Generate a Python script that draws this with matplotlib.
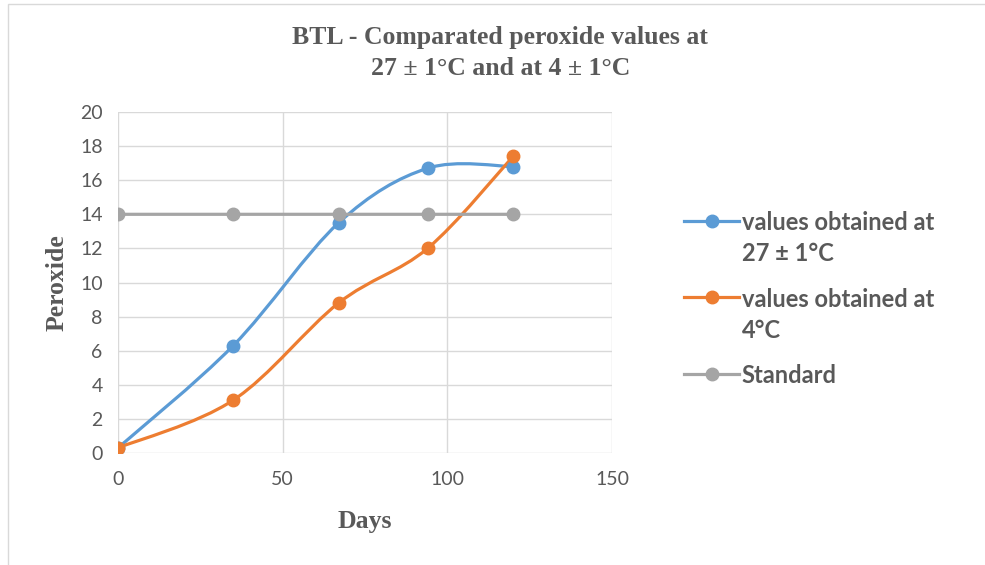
import numpy as np
import matplotlib.pyplot as plt
from matplotlib.path import Path
from matplotlib.patches import PathPatch, Rectangle
from matplotlib.lines import Line2D

# ---- data ----
days = [0, 35, 67, 94, 120]
peroxide_27 = [0.3, 6.3, 13.5, 16.7, 16.8]
peroxide_4 = [0.3, 3.1, 8.8, 12.0, 17.4]
standard = [14, 14, 14, 14, 14]

labels = ["values obtained at\n27 ± 1°C", "values obtained at\n4°C", "Standard"]
colors = ["#5B9BD5", "#ED7D31", "#A5A5A5"]

TEXT = "#595959"
GRID = "#D9D9D9"


def smooth_path(xs, ys):
    # Excel-like smoothed line: Catmull-Rom segments as cubic Bezier
    pts = np.column_stack([xs, ys]).astype(float)
    n = len(pts)
    verts = [pts[0]]
    codes = [Path.MOVETO]
    for i in range(n - 1):
        p0 = pts[i - 1] if i > 0 else pts[i]
        p1 = pts[i]
        p2 = pts[i + 1]
        p3 = pts[i + 2] if i + 2 < n else pts[i + 1]
        c1 = p1 + (p2 - p0) / 6.0
        c2 = p2 - (p3 - p1) / 6.0
        verts += [c1, c2, p2]
        codes += [Path.CURVE4] * 3
    return Path(verts, codes)


fig = plt.figure(figsize=(9.85, 5.65), dpi=100)
ax = fig.add_axes([118 / 985, 1 - 453 / 565, (612 - 118) / 985, (453 - 112) / 565])

series = [peroxide_27, peroxide_4, standard]
handles = []
for ys, col, lab in zip(series, colors, labels):
    ax.add_patch(PathPatch(smooth_path(days, ys), facecolor="none",
                           edgecolor=col, lw=2.3, capstyle="round", zorder=3))
    ax.plot(days, ys, linestyle="none", marker="o", ms=9, color=col, zorder=4)
    handles.append(Line2D([], [], color=col, lw=2.3, marker="o", ms=9))

ax.set_xlim(0, 150)
ax.set_ylim(0, 20)
ax.set_xticks(np.arange(0, 151, 50))
ax.set_yticks(np.arange(0, 21, 2))
ax.grid(True, color=GRID, lw=1)
ax.set_axisbelow(True)
for s in ax.spines.values():
    s.set_visible(False)
ax.tick_params(length=0, labelsize=14, labelcolor=TEXT)
ax.tick_params(axis="y", pad=11)
ax.tick_params(axis="x", pad=13)
for t in ax.get_xticklabels() + ax.get_yticklabels():
    t.set_fontfamily("Lato")

ax.set_xlabel("Days", fontsize=18.5, fontweight="bold", color=TEXT,
              family="Liberation Serif", labelpad=16)
ax.set_ylabel("Peroxide", fontsize=18.5, fontweight="bold", color=TEXT,
              family="Liberation Serif", labelpad=8)

fig.text(0.508, 1 - 53 / 565,
         "BTL - Comparated peroxide values at\n27 ± 1°C and at 4 ± 1°C",
         ha="center", va="center", fontsize=18.5, fontweight="bold",
         color=TEXT, family="Liberation Serif", linespacing=1.4)

leg = fig.legend(handles, labels, loc="upper left",
                 bbox_to_anchor=(675 / 985, 1 - 202 / 565),
                 frameon=False, handlelength=2.3, handletextpad=0.12,
                 handleheight=1.0, labelspacing=0.95, borderaxespad=0,
                 prop={"family": "Lato", "size": 17, "weight": "bold"})
for t in leg.get_texts():
    t.set_color(TEXT)
    t.set_linespacing(1.42)
# put each handle next to the first line of its label
for col in leg._legend_handle_box.get_children():
    for row in col.get_children():
        row.align = "top"

# light frame around the chart area
fig.patches.append(Rectangle((8 / 985, -0.05), 1.1, 1 - 4 / 565 + 0.05,
                             transform=fig.transFigure, fill=False,
                             edgecolor=GRID, lw=1))

fig.savefig("out.png", dpi=100)
